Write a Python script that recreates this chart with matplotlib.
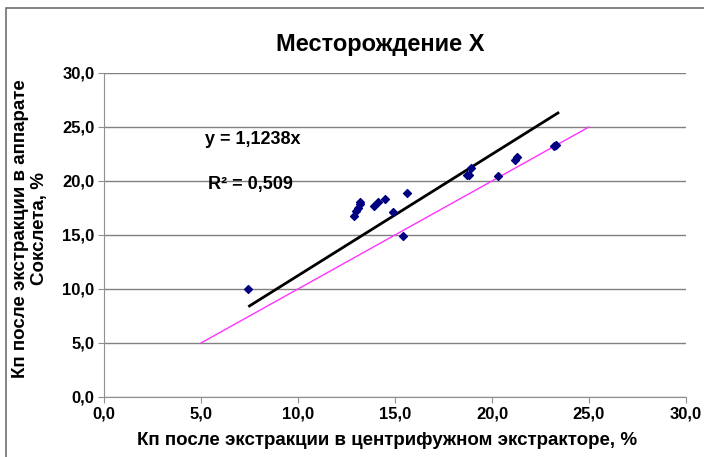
import matplotlib.pyplot as plt
from matplotlib.patches import Rectangle
from matplotlib.ticker import FuncFormatter

plt.rcParams['font.family'] = ['Liberation Sans', 'DejaVu Sans']

# данные: центрифужный экстрактор (x) и аппарат Сокслета (y), %
x_centr = [7.4, 12.9, 13.0, 13.1, 13.2, 13.2, 13.9, 14.1, 14.5, 14.9, 15.6, 15.4,
           18.7, 18.8, 18.9, 20.3, 21.2, 21.3, 23.2, 23.3]
y_soxh = [10.0, 16.8, 17.2, 17.5, 17.9, 18.1, 17.7, 18.1, 18.3, 17.1, 18.9, 14.9,
          20.6, 20.6, 21.2, 20.5, 21.9, 22.2, 23.2, 23.3]

slope = 1.1238
r2_text = "R² = 0,509"
trend_x = [7.5, 23.4]
diag_x = [5.0, 25.0]
ticks = [0, 5, 10, 15, 20, 25, 30]

fig = plt.figure(figsize=(7.04, 4.57), dpi=100)
fig.patches.append(Rectangle((6 / 704, -0.1), 1.2, 1 - 8 / 457 + 0.1,
                             transform=fig.transFigure, fill=False,
                             edgecolor='#707070', lw=1.2))
ax = fig.add_axes([0.1477, 0.1313, 0.8267, 0.709])

ax.set_xlim(0, 30)
ax.set_ylim(0, 30)
ax.set_xticks(ticks)
ax.set_yticks(ticks)
fmt = FuncFormatter(lambda v, p: f"{v:.1f}".replace('.', ','))
ax.xaxis.set_major_formatter(fmt)
ax.yaxis.set_major_formatter(fmt)
ax.yaxis.grid(True, color='#808080', lw=1)
ax.set_axisbelow(True)
for s in ['top', 'right']:
    ax.spines[s].set_visible(False)
for s in ['left', 'bottom']:
    ax.spines[s].set_color('#909090')
ax.tick_params(direction='out', length=4, color='#909090', labelsize=12, pad=3)
for lab in ax.get_xticklabels() + ax.get_yticklabels():
    lab.set_fontweight('bold')

# линия тренда и линия y = x
ax.plot(trend_x, [slope * v for v in trend_x], color='black', lw=2)
ax.plot(diag_x, diag_x, color='#ff33ff', lw=1)
ax.scatter(x_centr, y_soxh, marker='D', s=16, color='#000080', zorder=3)

ax.text(5.2, 23.8, "y = 1,1238x", fontsize=13, fontweight='bold', va='center')
ax.text(5.35, 19.7, r2_text, fontsize=13, fontweight='bold', va='center')

fig.text(380 / 704, 1 - 45 / 457, "Месторождение X", fontsize=17,
         fontweight='bold', ha='center', va='center')
ax.set_xlabel("Кп после экстракции в центрифужном экстракторе, %",
              fontsize=13.5, fontweight='bold')
ax.set_ylabel("Кп после экстракции в аппарате\nСокслета, %",
              fontsize=13.5, fontweight='bold')
ax.xaxis.set_label_coords(0.486, -0.133)
ax.xaxis.label.set_va('center')
ax.yaxis.set_label_coords(-0.127, 0.52)
ax.yaxis.label.set_va('center')

plt.savefig('out.png', dpi=100)
plt.close()
